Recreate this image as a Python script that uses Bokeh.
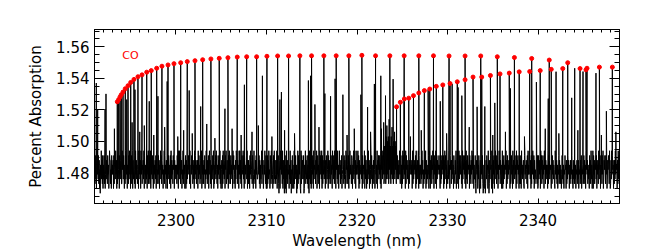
from bokeh.plotting import figure
from bokeh.models import Range1d, LinearAxis, SingleIntervalTicker, CustomJSTickFormatter, PrintfTickFormatter
from bokeh.embed import file_html
from bokeh.resources import INLINE
from bokeh.core.properties import value

# ---- data -------------------------------------------------------------
# CO 2-0 lines marked with red dots (wavelength nm, percent absorption)
co20_wl = [2293.52, 2293.67, 2293.82, 2293.96, 2294.15, 2294.40, 2294.70, 2295.00, 2295.36, 2295.80,
           2296.25, 2296.77, 2297.27, 2297.87, 2298.45, 2299.12, 2299.78, 2300.52, 2301.25, 2302.10,
           2302.95, 2303.86, 2304.78, 2305.74, 2306.77, 2307.81, 2308.91, 2310.05, 2311.23, 2312.44,
           2313.69, 2314.98, 2316.34, 2317.70, 2319.10, 2320.54, 2322.05, 2323.63, 2325.21, 2326.83,
           2328.45, 2330.17, 2331.94, 2333.67, 2335.50, 2337.39, 2339.30, 2341.24, 2343.28, 2345.30]
co20_abs = [1.5251, 1.5265, 1.5282, 1.5296, 1.5313, 1.5334, 1.5353, 1.5374, 1.5393, 1.5410,
            1.5422, 1.5439, 1.5449, 1.5464, 1.5477, 1.5485, 1.5493, 1.5499, 1.5506, 1.5512,
            1.5518, 1.5523, 1.5527, 1.5531, 1.5535, 1.5537, 1.5537, 1.5540, 1.5542, 1.5542,
            1.5543, 1.5543, 1.5543, 1.5543, 1.5543, 1.5546, 1.5543, 1.5543, 1.5543, 1.5543,
            1.5543, 1.5542, 1.5542, 1.5542, 1.5537, 1.5532, 1.5526, 1.5516, 1.5499, 1.5454]
# CO 3-1 lines marked with red dots
co31_wl = [2324.37, 2324.79, 2325.23, 2325.72, 2326.24, 2326.83, 2327.44, 2328.04, 2328.76, 2329.48,
           2330.28, 2331.08, 2331.94, 2332.82, 2333.78, 2334.74, 2335.80, 2336.82, 2337.92, 2339.08,
           2340.24, 2341.46, 2342.73, 2344.64, 2345.41, 2346.78, 2348.21]
co31_abs = [1.5219, 1.5248, 1.5269, 1.5274, 1.5290, 1.5307, 1.5322, 1.5332, 1.5349, 1.5358,
            1.5367, 1.5378, 1.5391, 1.5408, 1.5408, 1.5418, 1.5428, 1.5433, 1.5441, 1.5443,
            1.5449, 1.5457, 1.5462, 1.5462, 1.5464, 1.5471, 1.5471]
# other (unmarked) strong absorption lines of the spectrum
other_wl = [2291.20, 2291.35, 2292.17, 2292.27, 2294.56, 2295.47, 2297.05, 2298.01, 2299.03, 2301.46,
            2302.73, 2305.41, 2307.56, 2309.55, 2311.48, 2311.65, 2314.63, 2314.88, 2315.35, 2316.45,
            2317.08, 2317.58, 2318.44, 2320.43, 2321.17, 2321.92, 2322.63, 2322.70, 2322.95, 2323.15,
            2323.30, 2323.55, 2323.87, 2323.99, 2324.15, 2327.86, 2329.20, 2330.51, 2331.17, 2331.58,
            2333.27, 2334.12, 2335.22, 2336.95, 2339.82, 2341.13, 2341.99, 2343.72, 2344.05, 2344.97,
            2346.40, 2347.55]
other_abs = [1.5370, 1.5205, 1.5205, 1.5301, 1.5265, 1.5328, 1.5254, 1.5286, 1.5380, 1.5323,
             1.5221, 1.5207, 1.5359, 1.5416, 1.5265, 1.5313, 1.5386, 1.5416, 1.5234, 1.5303,
             1.5286, 1.5397, 1.5296, 1.5296, 1.5217, 1.5364, 1.5416, 1.5080, 1.5120, 1.5290,
             1.5100, 1.5140, 1.5090, 1.5395, 1.5060, 1.5328, 1.5254, 1.5364, 1.5342, 1.5290,
             1.5219, 1.5221, 1.5244, 1.5336, 1.5376, 1.5271, 1.5442, 1.5276, 1.5464, 1.5443,
             1.5433, 1.5191]
# weak unmarked lines rising just above the noise
weak_wl = [2293.20, 2295.15, 2296.00, 2296.50, 2297.55, 2298.75, 2300.20, 2300.85, 2301.80, 2303.40,
           2304.30, 2306.20, 2307.20, 2308.40, 2309.10, 2310.60, 2312.00, 2313.10, 2315.80, 2318.90,
           2319.70, 2321.50, 2325.90, 2327.10, 2329.90, 2332.40, 2335.00, 2336.40, 2338.50, 2340.80,
           2342.30, 2344.40, 2347.00, 2348.60]
weak_abs = [1.508, 1.512, 1.506, 1.510, 1.504, 1.509, 1.503, 1.507, 1.505, 1.511,
            1.502, 1.508, 1.504, 1.506, 1.510, 1.503, 1.507, 1.505, 1.509, 1.504,
            1.508, 1.506, 1.503, 1.507, 1.505, 1.509, 1.504, 1.506, 1.503, 1.508,
            1.505, 1.507, 1.504, 1.506]
# continuum noise, one string per 1-nm bin starting at 2291 nm; each hex digit is a level
noise_first_nm = 2291
noise_level0 = 1.467
noise_level_step = 0.003
noise_bins = [
    "62837159463827150649372816", "3826149375284613977251846", "4718265394716283591847362",
    "2957384162938471652839471", "6284917365281947362581946", "3719482657391846253718492",
    "5382916473851926473819254", "2847163958274615392846173", "7193846258193746285917364",
    "3628471959362847153928461", "4817293658472931648592736", "1938472657193846273591842",
    "6274815394627381594728163", "3859162748395261847359261", "5718294637185924736182947",
    "2846371958246173985274619", "4937261854938172645839172", "7261849357286149352718463",
    "3594827163592847136495281", "6182739451862937415829374", "2739164820371958462917350",
    "4816093725481639270548163", "1927384605192837461092837", "5380164927358261409372815",
    "2847193658274913856271948", "6391827453691728435918274", "3728461958372946185739261",
    "5946273814596283714958263", "2817394652871639485271946", "4693817265493718256491837",
    "7152839461725938416372951", "38462917583846291759384a2", "3a4b2c3a4b3c2a5b3a2c4b3a5",
    "2b4a3b5a29483736495274618", "2958374619285736419275846", "4719283657481926375918264",
    "6283947152638491725364819", "3917482659371846295183746", "5846192738564817293856174",
    "2739461857273946185327491", "4862719385486271938564827", "1937284659183627495829163",
    "3820574916382057194638201", "6194027385619402738561940", "2748163958274816395827461",
    "5917283647591728364759182", "3846192758384619275846192", "7281946357218946375281946",
    "4963718254963817254396281", "2837461958273846195827364", "6192847365619284736521948",
    "3726154827362514837261548", "5617263847516273648251736", "2736154726371546273815462",
    "4827361958472635184729361", "3918472659381746295738164", "6284913758628491375862941",
    "2739485617273948561729384",
]
x_lo, x_hi = 2291.0, 2349.0
y_lo, y_hi = 1.4605, 1.571
label_text = "CO"
label_wl, label_abs = 2294.06, 1.5548

# ---- build spectrum ----------------------------------------------------
pts = []
for i, s in enumerate(noise_bins):
    n = len(s)
    for j, c in enumerate(s):
        pts.append((noise_first_nm + i + (j + 0.5) / n, noise_level0 + noise_level_step * int(c, 16)))
for wl, a in zip(co20_wl + co31_wl + other_wl + weak_wl, co20_abs + co31_abs + other_abs + weak_abs):
    pts.append((wl, a))
pts.sort()
spec_x = [q[0] for q in pts]
spec_y = [q[1] for q in pts]

FONT = "DejaVu Sans"
p = figure(width=648, height=252, x_range=Range1d(x_lo, x_hi), y_range=Range1d(y_lo, y_hi),
           output_backend="svg", toolbar_location=None,
           min_border_left=94, min_border_right=29, min_border_top=29, min_border_bottom=47)
p.xgrid.visible = False
p.ygrid.visible = False
p.outline_line_color = "black"
p.outline_line_width = 1
p.background_fill_color = "white"
p.border_fill_color = "white"

xt = SingleIntervalTicker(interval=10, num_minor_ticks=10)
yt = SingleIntervalTicker(interval=0.02, num_minor_ticks=4)

def style(ax, is_x, labels=True):
    ax.axis_line_color = "black"
    ax.major_tick_line_color = "black"
    ax.minor_tick_line_color = "black"
    ax.major_tick_out = 0
    ax.minor_tick_out = 0
    if is_x:
        ax.major_tick_in = 5
        ax.minor_tick_in = 3
    else:
        ax.major_tick_in = 10
        ax.minor_tick_in = 5
    ax.major_label_text_font = FONT
    ax.major_label_text_font_size = "15px"
    ax.major_label_text_color = "black"
    ax.axis_label_text_font = FONT
    ax.axis_label_text_font_size = "15px"
    ax.axis_label_text_font_style = "normal"
    ax.axis_label_text_color = "black"
    if not labels:
        ax.formatter = CustomJSTickFormatter(code="return ''")
        ax.major_label_standoff = 0

bottom = p.xaxis[0]
left = p.yaxis[0]
bottom.ticker = xt
left.ticker = yt
left.formatter = PrintfTickFormatter(format="%.2f")
style(bottom, True)
style(left, False)
bottom.major_label_standoff = 10
bottom.axis_label = "Wavelength (nm)"
bottom.axis_label_standoff = 3
left.major_label_standoff = 5
left.axis_label = "Percent Absorption"
left.axis_label_standoff = 8

top = LinearAxis(ticker=xt)
style(top, True, labels=False)
p.add_layout(top, "above")
right = LinearAxis(ticker=yt)
style(right, False, labels=False)
p.add_layout(right, "right")

p.line(spec_x, spec_y, line_color="black", line_width=1)
p.scatter(co20_wl + co31_wl, co20_abs + co31_abs, size=4, fill_color="red", line_color="red")
p.text(x=[label_wl], y=[label_abs], text=[label_text], text_color="red",
       text_font=value(FONT), text_font_size="11px", text_align="left", text_baseline="alphabetic")

open("out.html", "w").write(file_html(p, INLINE))
